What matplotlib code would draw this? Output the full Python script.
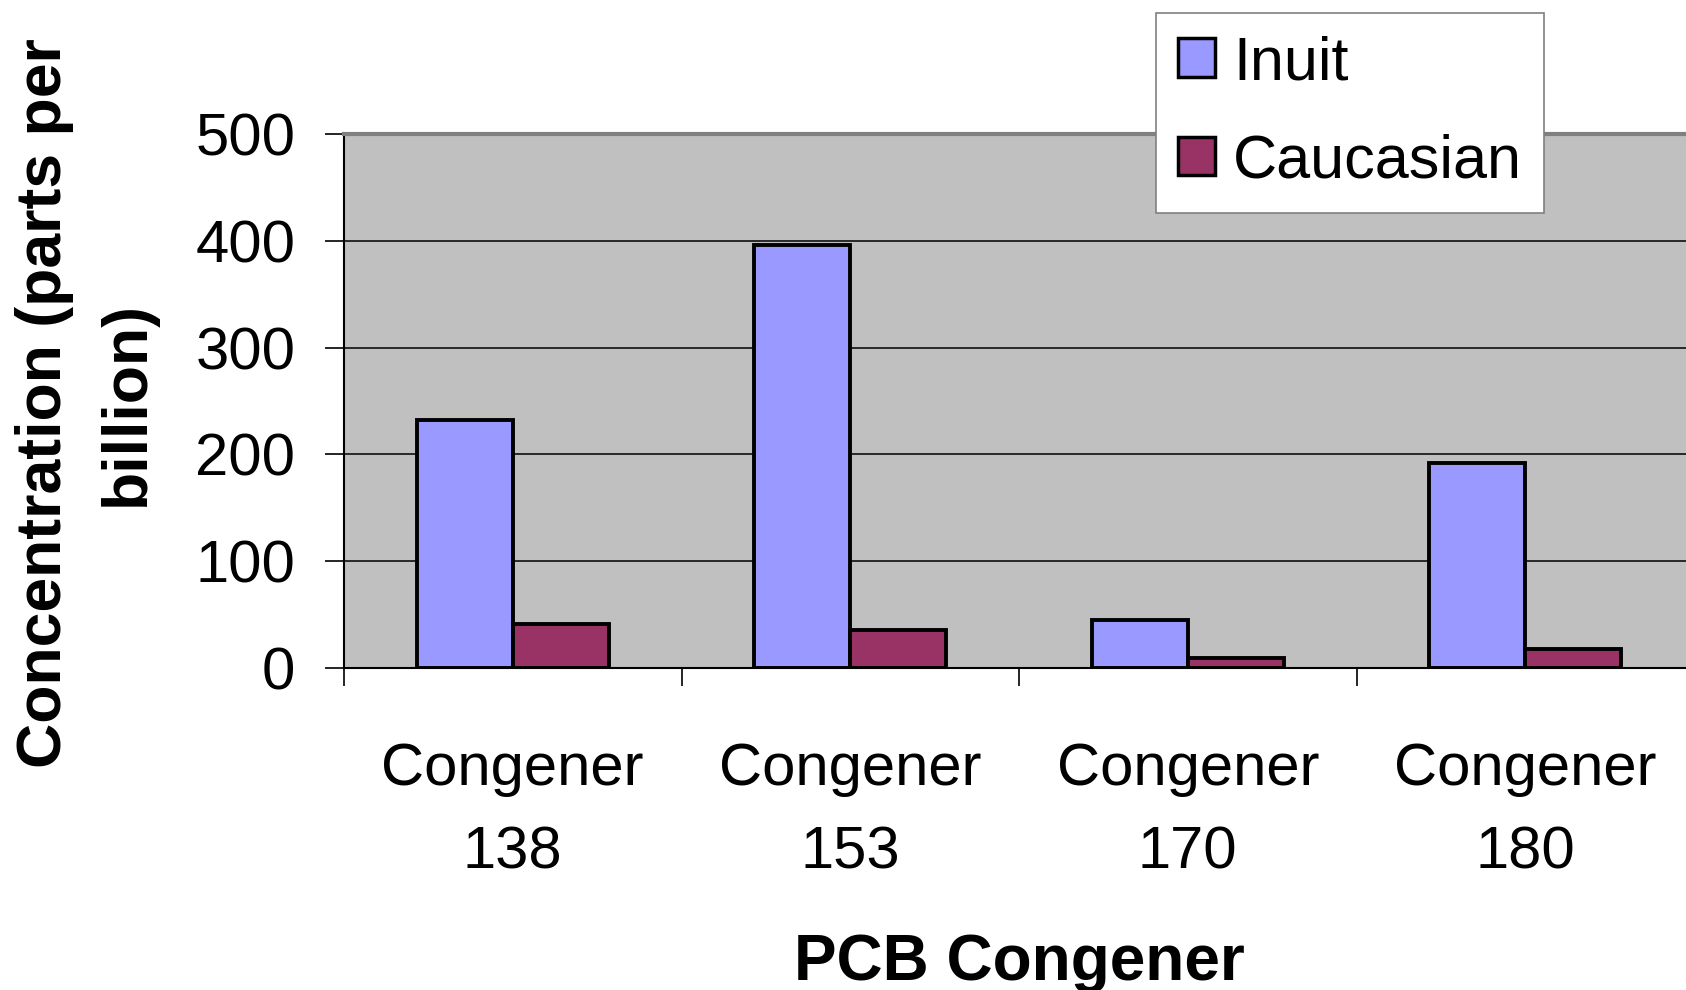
import matplotlib
matplotlib.use('Agg')
import matplotlib.pyplot as plt
import numpy as np

plt.rcParams['font.family'] = ['Liberation Sans', 'DejaVu Sans']

CATEGORIES = ['Congener\n138', 'Congener\n153', 'Congener\n170', 'Congener\n180']
SERIES = ['Inuit', 'Caucasian']
INUIT = [232, 396, 45, 191.5]
CAUCASIAN = [41, 36, 9, 18]
Y_TICKS = [0, 100, 200, 300, 400, 500]

INUIT_COLOR = '#9999FF'
CAUC_COLOR = '#993366'
PLOT_BG = '#C0C0C0'

W, H = 1686, 990
fig = plt.figure(figsize=(W / 100, H / 100), dpi=100)
fig.patch.set_facecolor('white')

# axes in pixel units: left 344, top 134, bottom 668, right runs past the edge
left, top, bottom, right = 344, 134, 668, 1694
ax = fig.add_axes([left / W, 1 - bottom / H, (right - left) / W, (bottom - top) / H])
ax.set_facecolor(PLOT_BG)

x = np.arange(len(CATEGORIES))
bw = 0.285
ax.bar(x - bw / 2, INUIT, bw, color=INUIT_COLOR, edgecolor='black', lw=2.8,
       label=SERIES[0], zorder=3)
ax.bar(x + bw / 2, CAUCASIAN, bw, color=CAUC_COLOR, edgecolor='black', lw=2.8,
       label=SERIES[1], zorder=3)

ax.set_xlim(-0.5, len(CATEGORIES) - 0.5)
ax.set_ylim(0, 500)
ax.set_yticks(Y_TICKS)
ax.tick_params(axis='y', direction='out', length=14, width=1.2, pad=21,
               labelsize=43)
ax.yaxis.grid(True, color='black', lw=1.1, zorder=1)
ax.set_axisbelow(True)

ax.set_xticks(x)
ax.set_xticklabels(CATEGORIES, fontsize=43, linespacing=1.68)
ax.tick_params(axis='x', which='major', length=0, pad=53)
ax.set_xticks(np.arange(len(CATEGORIES) + 1) - 0.5, minor=True)
ax.tick_params(axis='x', which='minor', direction='out', length=13, width=1.2)

ax.spines['top'].set_color('#808080')
ax.spines['top'].set_linewidth(3)
ax.spines['right'].set_visible(False)
ax.spines['left'].set_color('black')
ax.spines['left'].set_linewidth(1.5)
ax.spines['bottom'].set_color('black')
ax.spines['bottom'].set_linewidth(1.5)

fig.text(86 / W, 1 - 403 / H, 'Concentration (parts per\nbillion)',
         rotation=90, ha='center', va='center', multialignment='center',
         fontsize=45, fontweight='bold', linespacing=1.5)
fig.text(1019 / W, 1 - 980 / H, 'PCB Congener', ha='center', va='baseline',
         fontsize=46, fontweight='bold')

leg = fig.legend(loc='upper left', bbox_to_anchor=(1156 / W, 1 - 13 / H),
                 fontsize=44, frameon=True, fancybox=False, framealpha=1,
                 facecolor='white', borderpad=0.36,
                 handlelength=0.6, handleheight=0.6, handletextpad=0.3,
                 labelspacing=0.68, borderaxespad=0)
leg.get_frame().set_edgecolor('#808080')
leg.get_frame().set_linewidth(1.2)
for h in leg.legend_handles:
    h.set_linewidth(2.5)

fig.savefig('out.png', dpi=100)
